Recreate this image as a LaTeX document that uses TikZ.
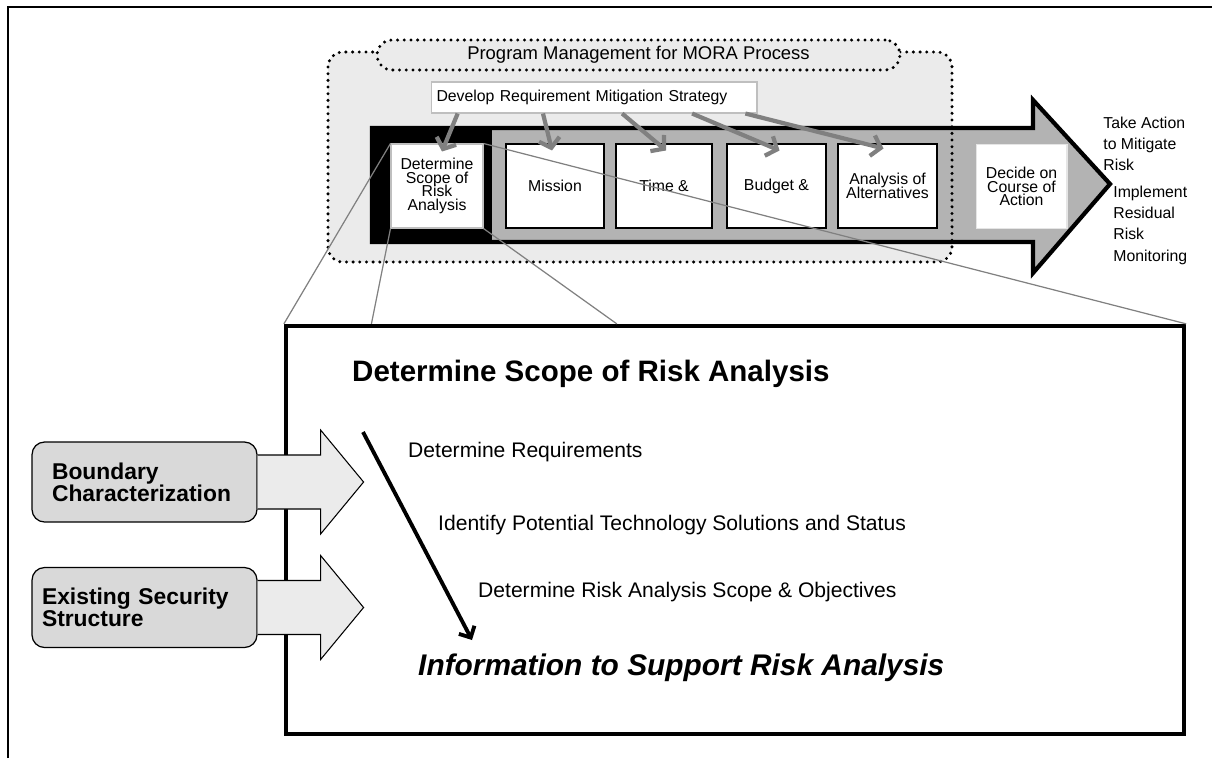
\documentclass[tikz,border=0pt]{standalone}
\usepackage{fontspec}
\setmainfont{Liberation Sans}
\usetikzlibrary{arrows.meta,calc,positioning}
\definecolor{regiongray}{HTML}{EBEBEB}
\definecolor{arrowgray}{HTML}{B3B3B3}
\definecolor{inboxgray}{HTML}{D9D9D9}
\definecolor{linkgray}{HTML}{808080}
\newcommand\tightskip{\lineskiplimit-10pt\relax}
\tikzset{
  dotline/.style={line width=1.9pt,dash pattern=on 0pt off 3.8pt,line cap=round},
  stepbox/.style={draw,fill=white,line width=0.6pt,minimum height=1.68cm,align=center,inner sep=1pt,
    font=\fontsize{9}{7.7}\selectfont\tightskip},
  inbox/.style={draw,fill=inboxgray,line width=0.7pt,rounded corners=0.25cm,minimum width=4.5cm,minimum height=1.6cm,
    align=left,font=\bfseries\fontsize{13}{12.5}\selectfont\tightskip},
  inarrow/.style={draw,fill=regiongray,line width=0.6pt},
  devlink/.style={draw=linkgray,line width=2.4pt,-{Straight Barb[length=5pt,width=12pt]}},
  zoomlink/.style={draw=linkgray,line width=0.7pt},
  sidetext/.style={anchor=north west,inner sep=0pt,align=left,font=\fontsize{9}{12}\selectfont},
  listtext/.style={anchor=west,font=\fontsize{12}{14}\selectfont}
}
\begin{document}
\begin{tikzpicture}[x=0.02cm,y=-0.02cm]
\useasboundingbox (0,0) rectangle (1212,758);
\draw[line width=0.6pt] (8,758) -- (8,7) -- (1212,7);

\fill[regiongray,rounded corners=0.3cm] (328,52) rectangle (952,262);
\draw[fill=arrowgray,line width=2.4pt] (372,128) -- (1033,128) -- (1033,100) -- (1110,184)
  -- (1033,273) -- (1033,242) -- (372,242) -- cycle;
\fill (372,128) rectangle (492,242);
\draw[dotline,rounded corners=0.3cm] (328,52) rectangle (952,262);
\node[draw,dotline,fill=regiongray,rounded corners=0.3cm,minimum width=10.46cm,minimum height=0.6cm,
  font=\fontsize{10.5}{12}\selectfont] (progmgmt) at (638.5,55) {Program Management for MORA Process};

\node[stepbox,draw=gray!50,minimum width=1.84cm] (scope) at (437,186) {Determine\\Scope of\\Risk\\Analysis};
\node[stepbox,minimum width=1.96cm] (mission) at (555,186) {Mission};
\node[stepbox,minimum width=1.92cm] (timebox) at (664,186) {Time \&};
\node[stepbox,minimum width=1.98cm] (budget) at (776.5,186) {Budget \&};
\node[stepbox,minimum width=1.98cm] (aoa) at (887.5,186) {Analysis of\\Alternatives};
\node[stepbox,draw=gray!20,minimum width=1.82cm] (decide) at (1021.5,186.5) {Decide on\\Course of\\Action};

\node[draw=gray!50,fill=white,line width=0.6pt,minimum width=6.52cm,minimum height=0.62cm,text width=6.3cm,
  inner xsep=0.11cm,align=left,font=\fontsize{9}{11}\selectfont] (dev) at (594,97.5)
  {Develop Requirement Mitigation Strategy};
\draw[devlink] ($(dev.south west)!0.083!(dev.south east)$) -- ($(scope.north)+(5,8)$);
\draw[devlink] ($(dev.south west)!0.344!(dev.south east)$) -- ($(mission.north)+(-3,7)$);
\draw[devlink] ($(dev.south west)!0.586!(dev.south east)$) -- ($(timebox.north)+(2,7)$);
\draw[devlink] ($(dev.south west)!0.8!(dev.south east)$) -- ($(budget.north)+(3,7)$);
\draw[devlink] ($(dev.south west)!0.963!(dev.south east)$) -- ($(aoa.north)+(-4,5)$);

\node[sidetext] (takeaction) at (1103,117) {Take Action\\to Mitigate\\Risk};
\node[sidetext] (residual) at (1113,186) {Implement\\Residual\\Risk\\Monitoring};

\node[draw,line width=2.5pt,minimum width=17.96cm,minimum height=8.16cm] (detail) at (735,530) {};
\draw[zoomlink] (scope.north west) -- (detail.north west);
\draw[zoomlink] (scope.south west) -- ($(detail.north west)!0.097!(detail.north east)$);
\draw[zoomlink] (scope.south east) -- ($(detail.north west)!0.369!(detail.north east)$);
\draw[zoomlink] (scope.north east) -- (detail.north east);

\node[inbox,text width=3.7cm,inner xsep=0.4cm] (boundary) at (144.5,482) {Boundary\\Characterization};
\node[inbox,text width=4.1cm,inner xsep=0.2cm] (security) at (144.5,607.5) {Existing Security\\Structure};
\draw[inarrow] ($(boundary.east)+(0,-27)$) -- ++(63,0) -- ++(0,-25) -- ($(boundary.east)+(106,0)$)
  -- ($(boundary.east)+(63,52)$) -- ++(0,-25) -- ($(boundary.east)+(0,27)$);
\draw[inarrow] ($(security.east)+(0,-27)$) -- ++(63,0) -- ++(0,-25) -- ($(security.east)+(106,0)$)
  -- ($(security.east)+(63,52)$) -- ++(0,-25) -- ($(security.east)+(0,27)$);

\coordinate (flowtop) at (363,432);
\coordinate (flowend) at (472,640);
\draw[line width=2.2pt,-{Straight Barb[length=5pt,width=10pt]}] (flowtop) -- (flowend);

\node[anchor=west,font=\bfseries\fontsize{16.8}{19}\selectfont] (scopetitle) at (346,374) {Determine Scope of Risk Analysis};
\node[listtext] (requirements) at (402,452) {Determine Requirements};
\node[listtext] (techsolutions) at (432,525) {Identify Potential Technology Solutions and Status};
\node[listtext] (objectives) at (472,592) {Determine Risk Analysis Scope \& Objectives};
\node[anchor=west,font=\bfseries\itshape\fontsize{17}{20}\selectfont] (infosupport) at (412,668) {Information to Support Risk Analysis};
\end{tikzpicture}
\end{document}
